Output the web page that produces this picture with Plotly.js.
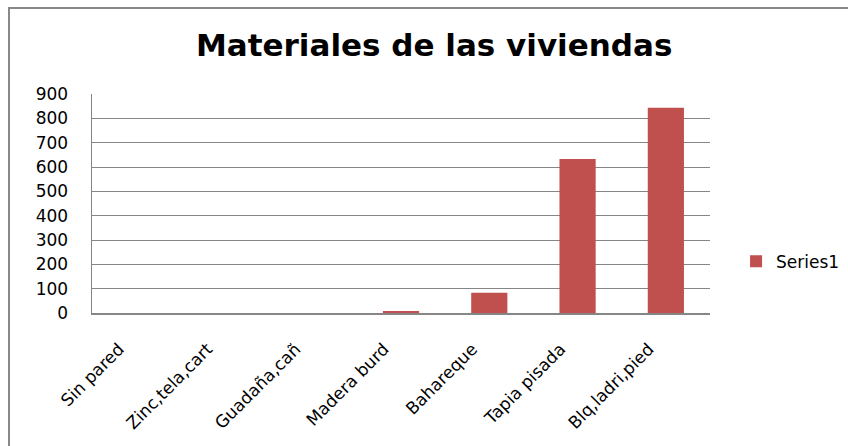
<!DOCTYPE html>
<html><head><meta charset="utf-8">
<script src="https://cdn.plot.ly/plotly-3.0.1.min.js"></script>
<style>
html,body{margin:0;padding:0;background:#fff;}
#wrap{position:relative;width:848px;height:446px;overflow:hidden;}
#chart{position:absolute;left:0;top:0;width:848px;height:446px;}
#frame{position:absolute;left:8px;top:7px;width:900px;height:500px;border:2px solid #888;pointer-events:none;}
</style></head>
<body>
<div id="wrap"><div id="chart"></div><div id="frame"></div></div>
<script>
var categories = ["Sin pared","Zinc,tela,cart","Guadaña,cañ","Madera burd","Bahareque","Tapia pisada","Blq,ladri,pied"];
var series1 = [0, 0, 0, 8, 83, 633, 843];
var yTicks = [0,100,200,300,400,500,600,700,800,900];

var trace = {
  type: 'bar', x: categories, y: series1, name: 'Series1',
  marker: {color: '#C0504D'}
};
var layout = {
  width: 848, height: 446,
  margin: {l: 92, r: 138, t: 94, b: 133, pad: 0, autoexpand: false},
  paper_bgcolor: '#fff', plot_bgcolor: '#fff',
  title: {text: 'Materiales de las viviendas', x: 0.512, xanchor: 'center', y: 0.898, yanchor: 'middle',
          font: {family: 'DejaVu Sans', size: 31, color: '#000', weight: 'bold'}},
  bargap: 0.59,
  showlegend: true,
  legend: {xref: 'container', yref: 'container', x: 0.868, xanchor: 'left', y: 0.413, yanchor: 'middle',
           itemwidth: 30, font: {family: 'DejaVu Sans', size: 17, color: '#000'}},
  xaxis: {type: 'category', tickangle: -45, showgrid: false, showline: true, linecolor: '#868686', linewidth: 1.5,
          ticks: '', tickfont: {family: 'DejaVu Sans', size: 17, color: '#000'}, fixedrange: true,
          ticklabelstandoff: 18, ticklabelshift: -17},
  yaxis: {range: [0, 900], tickvals: yTicks, ticktext: yTicks.map(String), showgrid: true, gridcolor: '#868686', gridwidth: 1,
          showline: true, linecolor: '#868686', linewidth: 1.5, ticks: '', zeroline: false,
          tickfont: {family: 'DejaVu Sans', size: 17, color: '#000'}, ticklabelstandoff: 19}
};
Plotly.newPlot('chart', [trace], layout, {staticPlot: true, displayModeBar: false});
</script>
</body></html>
